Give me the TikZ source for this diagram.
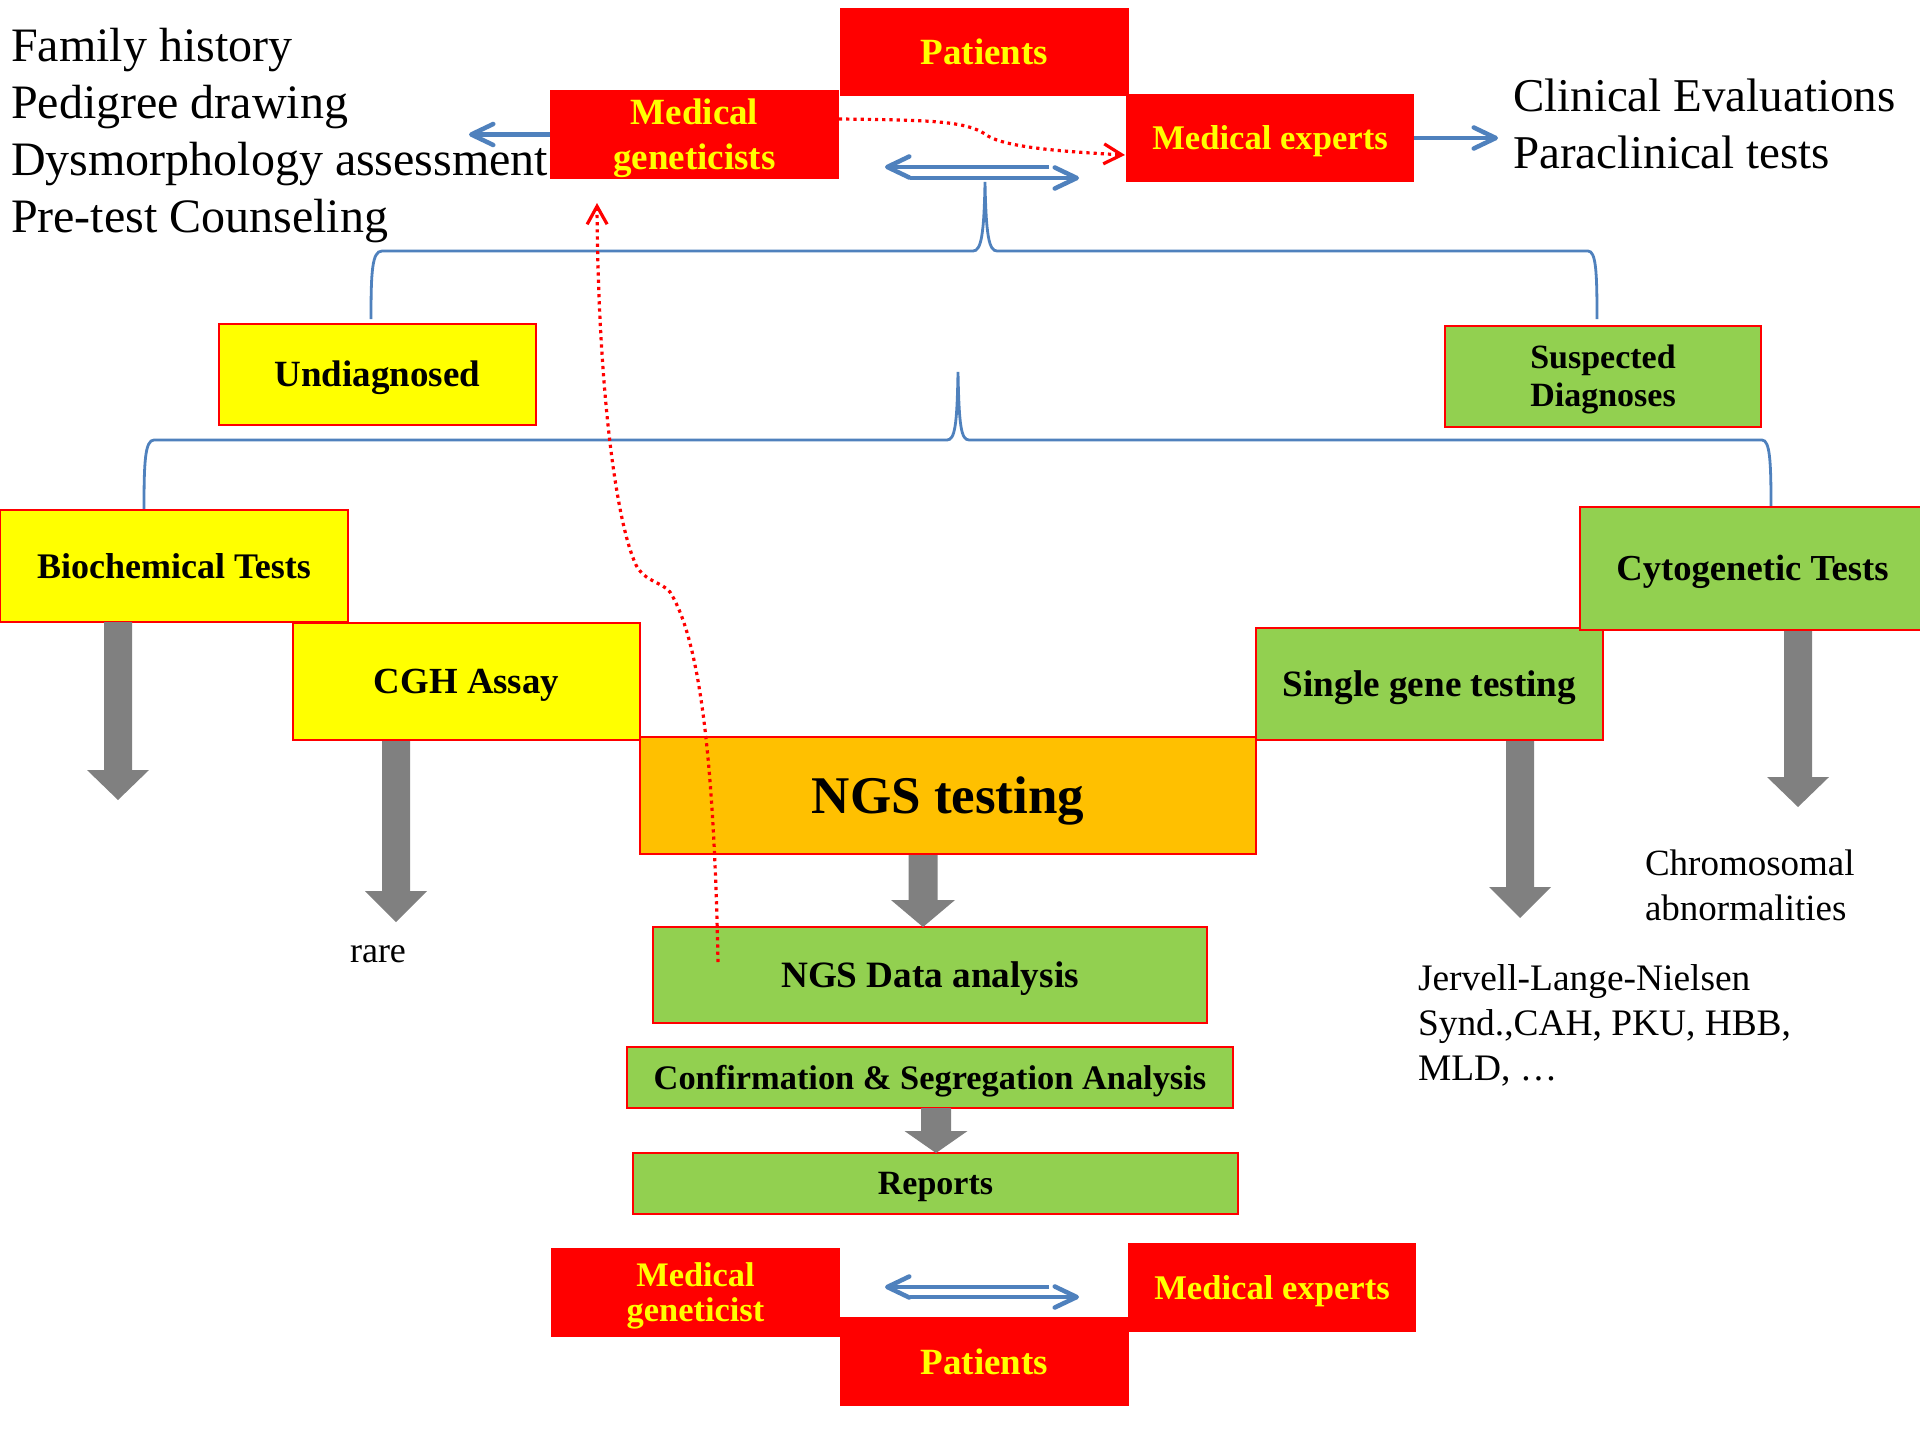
\documentclass[tikz,border=0pt]{standalone}
\usepackage{fontspec}
\setmainfont{Liberation Serif}
\usetikzlibrary{arrows.meta,calc}
\definecolor{boxred}{HTML}{FF0000}
\definecolor{txtyellow}{HTML}{FFFF00}
\definecolor{boxyellow}{HTML}{FFFF00}
\definecolor{boxgreen}{HTML}{92D050}
\definecolor{boxorange}{HTML}{FFC000}
\definecolor{arrowgray}{HTML}{808080}
\definecolor{lineblue}{HTML}{4F81BD}
\newcommand\fsz[2]{\fontsize{#1}{#2}\selectfont}
\newcommand\topstr{\rule{0pt}{0.891em}}
\newcommand\botstr{\rule[-0.216em]{0pt}{0.216em}}
\newcommand\blkarrow[6]{\fill[arrowgray] (#1-#5,#2) -- (#1+#5,#2) -- (#1+#5,#3) -- (#1+#6,#3) -- (#1,#4) -- (#1-#6,#3) -- (#1-#5,#3) -- cycle;}
\begin{document}
\begin{tikzpicture}[x=0.5pt,y=-0.5pt,
 basebox/.style={inner sep=0pt, outer sep=0pt, align=center, anchor=center},
 redbox/.style={basebox, fill=boxred, text=txtyellow},
 ybox/.style={basebox, fill=boxyellow, draw=boxred, line width=1pt},
 gbox/.style={basebox, fill=boxgreen, draw=boxred, line width=1pt},
 obox/.style={basebox, fill=boxorange, draw=boxred, line width=1pt},
 sz/.style 2 args={minimum width=#1, minimum height=#2},
 plain/.style={inner sep=0pt, outer sep=0pt},
 bluearrow/.style={draw=lineblue, line width=2.25pt, -{Straight Barb[length=11pt 0 0, width=10.5pt 0 0, round]}},
 bracepath/.style={draw=lineblue, line width=1.4pt},
 reddot/.style={draw=boxred, line width=1.6pt, dash pattern=on 1.6pt off 2pt, -{Straight Barb[length=9pt 0 0, width=10pt 0 0]}},
]
\fill[white] (0,0) rectangle (1920,1440);
\useasboundingbox (0,0) rectangle (1920,1440);

% braces
\coordinate (b1tip) at (985,182);
\draw[bracepath] (371,319) .. controls (371,272) and (372,251) .. (382,251) -- (973,251) .. controls (981,251) and (984,236) .. (b1tip) .. controls (986,236) and (989,251) .. (997,251) -- (1588,251) .. controls (1596,251) and (1597,272) .. (1597,319);
\coordinate (b2tip) at (958,372);
\draw[bracepath] (144,509) .. controls (144,462) and (145,440) .. (154,440) -- (947,440) .. controls (955,440) and (957,425) .. (b2tip) .. controls (959,425) and (961,440) .. (969,440) -- (1762,440) .. controls (1770,440) and (1771,462) .. (1771,507);

% top red boxes
\node[redbox, sz={144.5pt}{44pt}, font=\bfseries\fsz{18.5}{22.5}] (pat1) at (984.5,52) {\topstr Patients\botstr};
\node[redbox, sz={144.5pt}{44.5pt}, font=\bfseries\fsz{18.5}{22.5}] (mg1) at (694.5,134.5) {\topstr Medical\\geneticists\botstr};
\node[redbox, sz={144pt}{44pt}, font=\bfseries\fsz{17.3}{20}] (me1) at (1270,138) {\topstr Medical experts\botstr};

% middle boxes
\node[ybox, sz={158.5pt}{50.5pt}, font=\bfseries\fsz{18.5}{22}] (undiag) at (377.5,374.5) {\topstr Undiagnosed\botstr};
\node[gbox, sz={158pt}{50.5pt}, font=\bfseries\fsz{17}{19}] (susp) at (1603,376.5) {\topstr Suspected\\Diagnoses\botstr};
\node[ybox, sz={174pt}{56pt}, font=\bfseries\fsz{18}{22}] (bio) at (174,566) {\topstr Biochemical Tests\botstr};
\node[ybox, sz={173.5pt}{58.5pt}, font=\bfseries\fsz{18.4}{22}] (cgh) at (466.5,681.5) {\topstr CGH Assay\botstr};
\node[obox, sz={308pt}{58.5pt}, font=\bfseries\fsz{26.5}{30}] (ngs) at (948,795.5) {\topstr NGS testing\botstr};
\node[gbox, sz={173.5pt}{56pt}, font=\bfseries\fsz{18.6}{22}] (single) at (1429.5,684) {\topstr Single gene testing\botstr};
\node[gbox, sz={172.5pt}{61.5pt}, font=\bfseries\fsz{18.3}{22}] (cyto) at (1752.5,568.5) {\topstr Cytogenetic Tests\botstr};
\node[gbox, sz={277pt}{48pt}, font=\bfseries\fsz{18.6}{22}] (nda) at (930,975) {\topstr NGS Data analysis\botstr};
\node[gbox, sz={303pt}{30.5pt}, font=\bfseries\fsz{17.2}{20}] (conf) at (930,1077.5) {\topstr Confirmation \& Segregation Analysis\botstr};
\node[gbox, sz={302.5pt}{30.5pt}, font=\bfseries\fsz{17}{20}] (rep) at (935.5,1183.5) {\topstr Reports\botstr};

% bottom red boxes
\node[redbox, sz={144.5pt}{44.5pt}, font=\bfseries\fsz{17.2}{17.5}] (mg2) at (695.5,1292.5) {\topstr Medical\\geneticist\botstr};
\node[redbox, sz={144pt}{44.5pt}, font=\bfseries\fsz{17.3}{20}] (me2) at (1272,1287.5) {\topstr Medical experts\botstr};
\node[redbox, sz={144.5pt}{44.5pt}, font=\bfseries\fsz{18.5}{22}] (pat2) at (984.5,1361.5) {\topstr Patients\botstr};

% gray block arrows
\blkarrow{118}{622}{770}{800}{14}{31}
\blkarrow{396}{741}{891}{922}{14}{31}
\blkarrow{1520}{741}{887}{918}{14}{31}
\blkarrow{1798}{631}{777}{807}{14}{31}
\blkarrow{923}{855}{900}{927}{14.5}{32}
\blkarrow{936}{1108}{1131}{1153}{15}{31.5}

% free texts
\node[plain, anchor=base west, font=\fsz{24}{28}] (t1) at (11,61) {Family history};
\node[plain, anchor=base west, font=\fsz{24}{28}] (t2) at (11,118) {Pedigree drawing};
\node[plain, anchor=base west, font=\fsz{24}{28}] (t3) at (11,175) {Dysmorphology assessment};
\node[plain, anchor=base west, font=\fsz{24}{28}] (t4) at (11,232) {Pre-test Counseling};
\node[plain, anchor=base west, font=\fsz{23.5}{28}] (c1) at (1513,111) {Clinical Evaluations};
\node[plain, anchor=base west, font=\fsz{23.5}{28}] (c2) at (1513,168) {Paraclinical tests};
\node[plain, anchor=base, font=\fsz{18}{22}] (rare) at (378,962) {rare};
\node[plain, anchor=base west, font=\fsz{18.5}{22}] (chr1) at (1645,875) {Chromosomal};
\node[plain, anchor=base west, font=\fsz{18.5}{22}] (chr2) at (1645,920) {abnormalities};
\node[plain, anchor=base west, font=\fsz{18.7}{22}] (j1) at (1418,990) {Jervell-Lange-Nielsen};
\node[plain, anchor=base west, font=\fsz{18.7}{22}] (j2) at (1418,1035) {Synd.,CAH, PKU, HBB,};
\node[plain, anchor=base west, font=\fsz{18.7}{22}] (j3) at (1418,1080) {MLD, …};

% blue arrows
\coordinate (ltip) at (469,134.5);
\coordinate (rtip) at (1498,138);
\draw[bluearrow] (mg1.west) -- (ltip);
\draw[bluearrow] (me1.east) -- (rtip);
\coordinate (da1s) at (1049,167);
\coordinate (da1e) at (885,167);
\coordinate (da2s) at (910,178);
\coordinate (da2e) at (1079,178);
\draw[bluearrow] (da1s) -- (da1e);
\draw[bluearrow] (da2s) -- (da2e);
\coordinate (db1s) at (1049,1287);
\coordinate (db1e) at (885,1287);
\coordinate (db2s) at (910,1297);
\coordinate (db2e) at (1079,1297);
\draw[bluearrow] (db1s) -- (db1e);
\draw[bluearrow] (db2s) -- (db2e);

% red dotted arrows
\draw[reddot] ($(mg1.east)+(0,-15.5)$) .. controls (930,120) and (965,121) .. (985,134) .. controls (1000,146) and (1050,151) .. ($(me1.west)+(-1,17)$);
\draw[reddot] ($(nda.center)+(-212,-13)$) .. controls (714,760) and (700,640) .. (670,592) .. controls (662,582) and (645,582) .. (636,565) .. controls (615,520) and (598,380) .. ($(mg1.south)+(-97.5,24)$);
\end{tikzpicture}
\end{document}
